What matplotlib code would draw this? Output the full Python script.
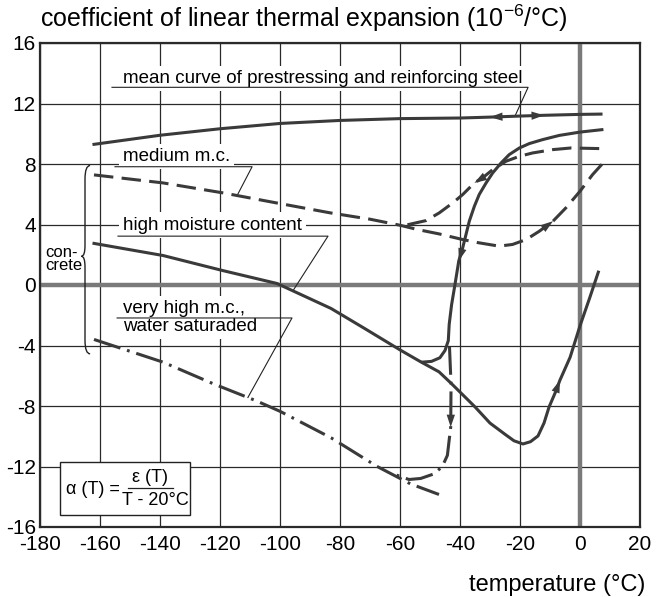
import numpy as np
import matplotlib
matplotlib.use('Agg')
import matplotlib.pyplot as plt
from matplotlib.path import Path
from matplotlib.patches import PathPatch, Rectangle

plt.rcParams['font.family'] = ['Liberation Sans', 'DejaVu Sans']
plt.rcParams['mathtext.fontset'] = 'custom'
plt.rcParams['mathtext.rm'] = 'Liberation Sans'
plt.rcParams['lines.scale_dashes'] = False

# -----------------------------
# curves: temperature (degC) vs alpha (1e-6/degC)
# -----------------------------
steel_T = [-162, -140, -120, -100, -80, -60, -40, -30, -20, -12, 0, 7]
steel_a = [9.3, 9.9, 10.33, 10.68, 10.88, 11.0, 11.04, 11.1, 11.17, 11.22, 11.28, 11.3]

# medium moisture content: main branch and cooling branch
med_T = [-162, -139, -119, -101, -83, -70, -60, -54, -47, -39, -34, -27, -22.5, -18,
         -13.6, -9, -4.7, 0, 4.2, 8.4]
med_a = [7.28, 6.75, 6.09, 5.42, 4.76, 4.35, 3.95, 3.66, 3.38, 3.0, 2.8, 2.57, 2.68, 3.0,
         3.55, 4.22, 5.1, 6.2, 7.3, 8.22]
medc_T = [6.4, -3, -9.1, -15.8, -20.2, -24.7, -29.1, -32.5, -35.2, -39.1, -42.4, -46.9,
          -51.3, -57.8]
medc_a = [9.02, 9.06, 8.95, 8.73, 8.51, 8.18, 7.63, 7.08, 6.75, 5.98, 5.43, 4.77, 4.26, 3.97]

# high moisture content
high_T = [-162, -139, -119, -101, -83, -72, -67, -60, -53, -47, -43, -38, -35, -30, -25,
          -22, -19, -16.5, -14, -12, -10.3, -8, -6.7, -3.3, 0, 3.3, 6.1]
high_a = [2.75, 1.95, 0.95, 0.1, -1.55, -2.85, -3.45, -4.29, -5.09, -5.74, -6.49, -7.47,
          -8.06, -9.13, -9.87, -10.3, -10.51, -10.36, -9.98, -9.13, -8.06, -7.0, -6.3,
          -4.78, -2.7, -0.81, 0.85]
highc_T = [7.3, 0, -6.9, -12.5, -16.9, -20.2, -23.6, -26.3, -29.1, -31.3, -33.6, -35.2,
           -36.9, -38, -39.1, -40.4, -41.7, -42.8, -43.6, -43.9, -45, -46.7, -49.5, -52.5]
highc_a = [10.27, 10.11, 9.89, 9.61, 9.35, 9.06, 8.62, 8.07, 7.41, 6.75, 5.98, 5.21, 4.22,
           3.34, 2.46, 1.6, 0.0, -1.3, -2.6, -3.68, -4.33, -4.81, -5.05, -5.1]

# very high moisture content, water saturated
vh_T = [-162, -139, -122, -108, -100, -83, -67.6, -56.5, -47]
vh_a = [-3.6, -5.1, -6.55, -7.65, -8.35, -10.1, -12.0, -13.15, -13.85]
vhc_T = [-43.5, -43.0, -43.0, -43.1, -43.7, -44.2, -45.9, -48.7, -53.1, -57, -63.1]
vhc_a = [-4.1, -6.5, -7.0, -9.4, -10.4, -11.26, -12.0, -12.49, -12.79, -12.86, -12.43]

x_ticks = list(range(-180, 21, 20))
y_ticks = list(range(-16, 17, 4))

ink = '#3a3a3a'
lw = 2.2
dashed = (0, (14, 6))
dashdot = (0, (20, 5, 2, 5))

fig = plt.figure(figsize=(6.63, 5.97), dpi=100)
ax = fig.add_axes([40 / 663, 1 - 527 / 597, 600 / 663, 484 / 597])
ax.set_xlim(-180, 20)
ax.set_ylim(-16, 16)

ax.set_xticks(x_ticks)
ax.set_xticklabels([str(t) for t in x_ticks])
ax.set_yticks(y_ticks)
ax.set_yticklabels([str(t) for t in y_ticks])
ax.tick_params(length=0, labelsize=15, pad=6)
ax.tick_params(axis='y', pad=3)
ax.grid(True, color='#2a2a2a', lw=0.9, zorder=0)
ax.set_axisbelow(True)
for s in ax.spines.values():
    s.set_linewidth(1.6)
    s.set_color('#2a2a2a')

# thick zero lines
ax.axhline(0, color='#7a7a7a', lw=3.2, zorder=1)
ax.axvline(0, color='#7a7a7a', lw=3.2, zorder=1)

# curves
ax.plot(steel_T, steel_a, color=ink, lw=lw, zorder=4)
ax.plot(med_T, med_a, color=ink, lw=lw, ls=dashed, zorder=4)
ax.plot(medc_T, medc_a, color=ink, lw=lw, ls=dashed, zorder=4)
ax.plot(high_T, high_a, color=ink, lw=lw, zorder=4)
ax.plot(highc_T, highc_a, color=ink, lw=lw, zorder=4)
ax.plot(vh_T, vh_a, color=ink, lw=lw, ls=dashdot, zorder=4)
ax.plot(vhc_T, vhc_a, color=ink, lw=lw, ls=dashdot, zorder=4)


def arrow(T, a, i, j):
    # arrow head sitting on point i, pointing away from point j
    ax.annotate('', xy=(T[i], a[i]), xytext=(T[j], a[j]),
                arrowprops=dict(arrowstyle='-|>,head_length=0.9,head_width=0.3',
                                color=ink, lw=0, shrinkA=0, shrinkB=0),
                zorder=5)


arrow(steel_T, steel_a, 7, 8)
arrow(steel_T, steel_a, 9, 8)
arrow(medc_T, medc_a, 8, 7)
arrow(med_T, med_a, 15, 14)
arrow(highc_T, highc_a, 15, 14)
arrow(high_T, high_a, 22, 21)
arrow(vhc_T, vhc_a, 3, 2)


def callout(text, x, y, x0, x1, yu, tx, T, a):
    # label on white ground, underline and leader down to the curve
    ax.text(x, y, text, fontsize=13.5, ha='left', va='center', linespacing=1.1,
            bbox=dict(fc='white', ec='none', pad=3), zorder=3)
    order = np.argsort(T)
    ty = np.interp(tx, np.asarray(T)[order], np.asarray(a)[order])
    ax.plot([x0, x1, tx], [yu, yu, ty], color='#222222', lw=0.8, zorder=3.5)


callout('mean curve of prestressing and reinforcing steel', -152.3, 13.67,
        -156, -17.3, 13.07, -21.7, steel_T, steel_a)
callout('medium m.c.', -152.3, 8.5, -155, -109.3, 7.82, -114.3, med_T, med_a)
callout('high moisture content', -152.3, 3.96, -154, -84, 3.23, -95.7, high_T, high_a)
callout('very high m.c.,\nwater saturaded', -152.3, -2.15, -154.3, -96, -2.18, -110.7,
        vh_T, vh_a)

# concrete brace
bx, by_top, by_bot, by_tip = -165, 7.9, -4.55, 1.9
verts = [(bx + 1.7, by_top), (bx, by_top), (bx, by_top - 0.9),
         (bx, by_tip + 0.7), (bx, by_tip), (bx - 1.2, by_tip), (bx, by_tip), (bx, by_tip - 0.7),
         (bx, by_bot + 0.9), (bx, by_bot), (bx + 1.7, by_bot)]
codes = [Path.MOVETO, Path.CURVE3, Path.CURVE3, Path.LINETO, Path.CURVE3, Path.CURVE3,
         Path.CURVE3, Path.CURVE3, Path.LINETO, Path.CURVE3, Path.CURVE3]
ax.add_patch(PathPatch(Path(verts, codes), fc='none', ec='#222222', lw=1.0, zorder=3))
ax.text(-178.3, 1.7, 'con-\ncrete', fontsize=12, ha='left', va='center', linespacing=0.85,
        zorder=3)

# formula box
ax.add_patch(Rectangle((-173.3, -15.2), 43.3, 3.48, fc='white', ec='#222222', lw=1.0,
                       zorder=3))
ax.text(-171.5, -13.5, 'α (T) =', fontsize=13, ha='left', va='center', zorder=4)
ax.text(-143.2, -12.7, 'ε (T)', fontsize=13, ha='center', va='center', zorder=4)
ax.plot([-150.7, -135.7], [-13.4, -13.4], color='#222222', lw=0.9, zorder=4)
ax.text(-141.7, -14.25, 'T - 20°C', fontsize=13, ha='center', va='center', zorder=4)

fig.text(40 / 663, 1 - 18 / 597, 'coefficient of linear thermal expansion (10$^{-6}$/°C)',
         fontsize=18, ha='left', va='center')
fig.text(645 / 663, 1 - 585 / 597, 'temperature (°C)', fontsize=17, ha='right',
         va='center')

fig.savefig('out.png', dpi=100)
